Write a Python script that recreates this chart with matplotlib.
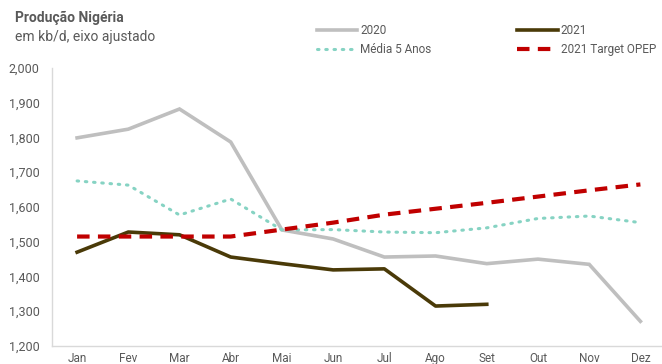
import matplotlib
matplotlib.use("Agg")
import matplotlib.pyplot as plt
from matplotlib.lines import Line2D

months = ["Jan", "Fev", "Mar", "Abr", "Mai", "Jun", "Jul", "Ago", "Set", "Out", "Nov", "Dez"]
y2020 = [1799, 1824, 1882, 1787, 1534, 1508, 1456, 1459, 1437, 1450, 1435, 1271]
y2021 = [1470, 1528, 1520, 1456, 1437, 1419, 1422, 1315, 1320]
media5 = [1675, 1663, 1577, 1623, 1534, 1535, 1528, 1526, 1540, 1567, 1574, 1555]
target = [1515, 1515, 1515, 1515, 1535, 1555, 1578, 1595, 1612, 1630, 1648, 1665]
yticks = [1200, 1300, 1400, 1500, 1600, 1700, 1800, 1900, 2000]

FONT = ["Roboto", "DejaVu Sans"]
plt.rcParams["font.family"] = FONT
TXT = "#595959"

W, H = 662, 364
fig = plt.figure(figsize=(W / 100, H / 100), dpi=100)
ax = fig.add_axes([52 / W, 18 / H, 614 / W, 278 / H])

x = list(range(len(months)))
c2020, c2021, cmed, ctar = "#BFBFBF", "#4A3A08", "#86D3C3", "#C00000"
ax.plot(x, y2020, color=c2020, lw=2.6, solid_joinstyle="miter")
ax.plot(x[:len(y2021)], y2021, color=c2021, lw=2.6)
ax.plot(x, media5, color=cmed, lw=2.2, linestyle=(0, (0.5, 2.2)), dash_capstyle="round")
ax.plot(x, target, color=ctar, lw=3.0, linestyle=(0, (3, 2)))

ax.set_xlim(-0.49, 11.5)
ax.set_ylim(1200, 2000)
ax.set_yticks(yticks)
ax.set_yticklabels([f"{v:,}" for v in yticks], color=TXT, fontsize=9)
ax.set_xticks(x)
ax.set_xticklabels(months, color=TXT, fontsize=8.5)
ax.tick_params(axis="x", length=0, pad=4.5)
ax.tick_params(axis="y", length=0, pad=9)
for s in ["top", "right"]:
    ax.spines[s].set_visible(False)
for s in ["left", "bottom"]:
    ax.spines[s].set_color("#D9D9D9")
    ax.spines[s].set_linewidth(1)

fig.text(15 / W, 1 - 18 / H, "Produção Nigéria", fontsize=10, fontweight="bold", color=TXT, va="center", ha="left")
fig.text(15 / W, 1 - 37 / H, "em kb/d, eixo ajustado", fontsize=10, color=TXT, va="center", ha="left")

handles = [Line2D([], [], color=c2020, lw=2.6),
           Line2D([], [], color=cmed, lw=2.2, linestyle=(0, (0.5, 2.2)), dash_capstyle="round"),
           Line2D([], [], color=c2021, lw=2.6),
           Line2D([], [], color=ctar, lw=3.0, linestyle=(0, (3, 2)))]
labels = ["2020", "Média 5 Anos", "2021", "2021 Target OPEP"]
leg = fig.legend(handles, labels, ncol=2, loc="center left", bbox_to_anchor=(311 / W, 1 - 40 / H),
                 frameon=False, fontsize=8.5, handlelength=3.4, handletextpad=0.25,
                 columnspacing=7.3, labelspacing=0.45, borderpad=0)
for t in leg.get_texts():
    t.set_color(TXT)

fig.savefig("out.png", dpi=100)
